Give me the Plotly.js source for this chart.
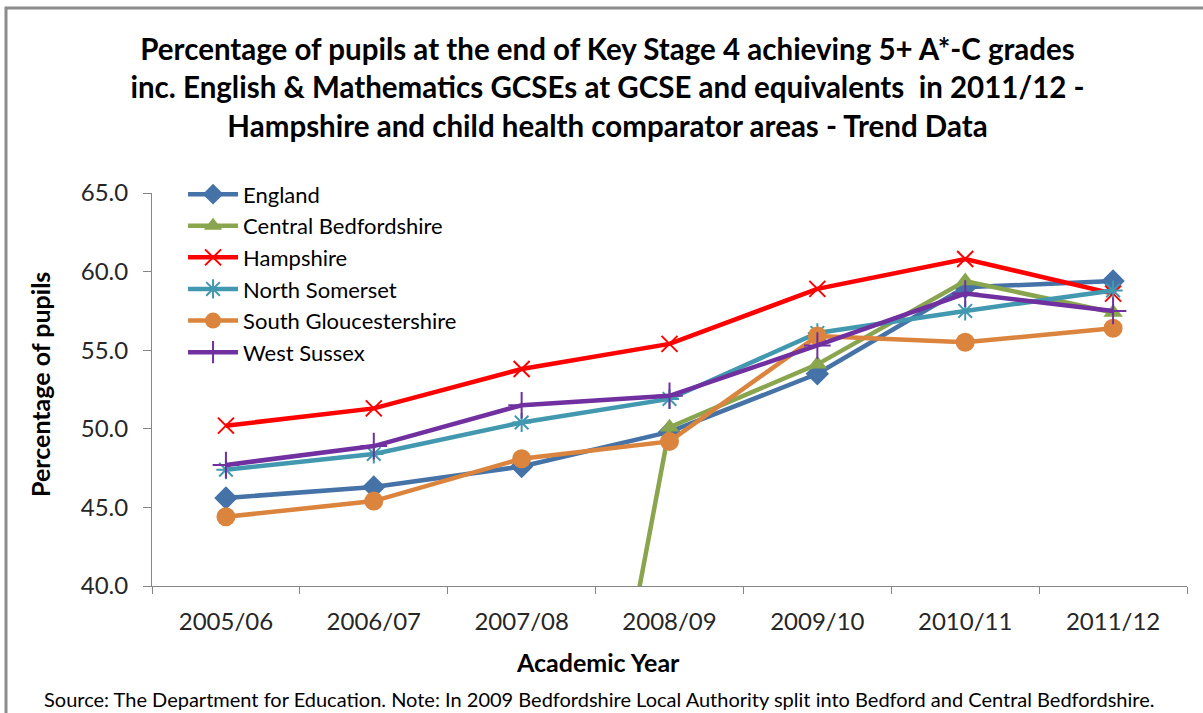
<!DOCTYPE html>
<html>
<head>
<meta charset="utf-8">
<script src="https://cdn.plot.ly/plotly-3.0.1.min.js"></script>
<style>
  html, body { margin: 0; padding: 0; background: #fff; }
  #chart { width: 1203px; height: 713px; }
</style>
</head>
<body>
<div id="chart"></div>
<script>
const years = ["2005/06", "2006/07", "2007/08", "2008/09", "2009/10", "2010/11", "2011/12"];
const england = [45.6, 46.3, 47.6, 49.8, 53.5, 59.0, 59.4];
const centralBedfordshire = [0, 0, 0, 50.1, 54.1, 59.4, 57.4];
const hampshire = [50.2, 51.3, 53.8, 55.4, 58.9, 60.8, 58.6];
const northSomerset = [47.4, 48.4, 50.4, 51.9, 56.1, 57.5, 58.8];
const southGloucestershire = [44.4, 45.4, 48.1, 49.2, 55.9, 55.5, 56.4];
const westSussex = [47.7, 48.9, 51.5, 52.1, 55.3, 58.6, 57.5];
const yTicks = [40, 45, 50, 55, 60, 65];
const yTickLabels = ["40.0", "45.0", "50.0", "55.0", "60.0", "65.0"];

const FONT = "Lato, 'Open Sans', sans-serif";

function series(name, y, color, symbol, size, lineW) {
  return {
    type: "scatter", mode: "lines+markers", name: name,
    x: years, y: y,
    line: { color: color, width: 4.5 },
    marker: { symbol: symbol, size: size, color: color,
              line: { color: color, width: lineW } }
  };
}

const data = [
  series("England", england, "#4572A7", "diamond", 18, 0),
  series("Central Bedfordshire", centralBedfordshire, "#89A54E", "triangle-up", 17, 0),
  series("Hampshire", hampshire, "#FF0000", "x-thin-open", 16, 2),
  series("North Somerset", northSomerset, "#4198AF", "asterisk-open", 16, 2),
  series("South Gloucestershire", southGloucestershire, "#DB843D", "circle", 19, 0),
  series("West Sussex", westSussex, "#7030A0", "cross-thin-open", 19, 2)
];

const layout = {
  width: 1203, height: 713,
  margin: { l: 152, r: 16, t: 193, b: 127 },
  paper_bgcolor: "#ffffff", plot_bgcolor: "#ffffff",
  font: { family: FONT, color: "#262626" },
  showlegend: true,
  title: {
    text: "Percentage of pupils at the end of Key Stage 4 achieving 5+ A*-C grades<br>inc. English &amp; Mathematics GCSEs at GCSE and equivalents  in 2011/12 -<br>Hampshire and child health comparator areas - Trend Data",
    font: { family: FONT, size: 29.5, color: "#000", weight: "bold" },
    xref: "container", yref: "container", x: 0.505, xanchor: "center",
    y: 1 - 60 / 713, yanchor: "top"
  },
  legend: {
    x: 0.03, y: 1.05, xanchor: "left", yanchor: "top",
    bgcolor: "rgba(255,255,255,0)",
    font: { family: FONT, size: 22, color: "#000" },
    tracegroupgap: 0, itemwidth: 50
  },
  xaxis: {
    type: "category",
    range: [-0.5, 6.5],
    showline: true, linecolor: "#868686", linewidth: 1,
    ticks: "outside", tickson: "boundaries", ticklen: 7, tickcolor: "#868686",
    showgrid: false, zeroline: false,
    tickfont: { family: FONT, size: 24, color: "#262626" },
    ticklabelstandoff: 14
  },
  yaxis: {
    range: [40, 65],
    tickvals: yTicks, ticktext: yTickLabels,
    showline: true, linecolor: "#868686", linewidth: 1,
    ticks: "outside", ticklen: 8, tickcolor: "#868686",
    showgrid: false, zeroline: false,
    tickfont: { family: FONT, size: 24, color: "#262626" },
    ticklabelstandoff: 10
  },
  annotations: [
    { text: "<b>Academic Year</b>", xref: "paper", yref: "paper",
      x: (598 - 152) / 1035, y: -(662 - 586) / 393, xanchor: "center", yanchor: "middle",
      showarrow: false, font: { family: FONT, size: 25, color: "#000" } },
    { text: "<b>Percentage of pupils</b>", xref: "paper", yref: "paper",
      x: (40 - 152) / 1035, y: (586 - 385) / 393, xanchor: "center", yanchor: "middle",
      textangle: -90, showarrow: false, font: { family: FONT, size: 25, color: "#000" } },
    { text: "Source: The Department for Education. Note: In 2009 Bedfordshire Local Authority split into Bedford and Central Bedfordshire.",
      xref: "paper", yref: "paper",
      x: (42 - 152) / 1035, y: -(699 - 586) / 393, xanchor: "left", yanchor: "middle",
      showarrow: false, font: { family: FONT, size: 20, color: "#000" } }
  ],
  shapes: [
    { type: "rect", xref: "paper", yref: "paper",
      x0: (6 - 152) / 1035, x1: (1210 - 152) / 1035,
      y0: -(740 - 586) / 393, y1: (586 - 8) / 393,
      line: { color: "#8c8c8c", width: 3 }, fillcolor: "rgba(0,0,0,0)", layer: "below" }
  ]
};

Plotly.newPlot("chart", data, layout, { displayModeBar: false, staticPlot: true });
</script>
</body>
</html>
